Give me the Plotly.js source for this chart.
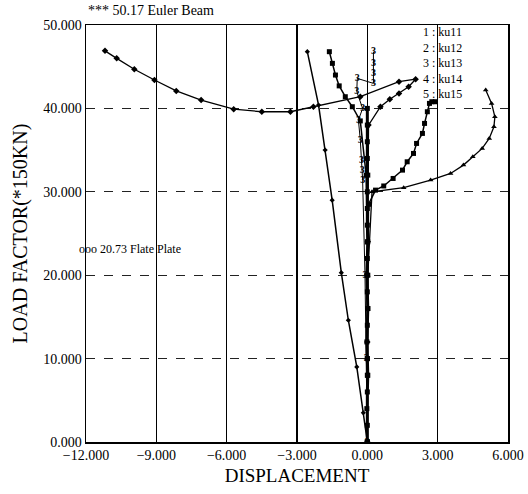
<!DOCTYPE html>
<html>
<head>
<meta charset="utf-8">
<script src="https://cdn.plot.ly/plotly-3.0.1.min.js"></script>
<style>html,body{margin:0;padding:0;background:#fff;}#chart{width:528px;height:494px;}</style>
</head>
<body>
<div id="chart"></div>
<script>
// ---- data ----
// ku11 : straight line from origin
const ku11X = [0, -0.17, -0.45, -0.81, -1.11, -1.5, -1.8, -2.08, -2.56];
const ku11Y = [0, 3.5, 9.0, 14.6, 20.3, 29.0, 35.0, 40.4, 46.8];

// ku12 : squares, up the column then left
const ku12X = [0, 0.0, 0.02, 0.0, -0.05, -0.3, -0.64, -0.94, -1.2, -1.36, -1.49, -1.62];
const ku12Y = [0, 8, 16, 24, 32, 38.5, 40.2, 41.4, 42.7, 44.0, 45.4, 46.8];

// ku13 : "3" labelled points
const ku13X = [0, -0.05, -0.1, -0.2, -0.22, -0.25, -0.3, -0.38, -0.2, -0.45, -0.43, 0.26, 0.26, 0.26, 0.26];
const ku13Y = [0, 10, 20, 31.4, 32.6, 33.8, 36.2, 38.6, 40.0, 42.0, 43.6, 43.0, 44.2, 45.4, 46.8];

// ku14 : Euler beam path (right loop then far left)
const ku14X = [0, 0.0, 0.02, 0.05, 0.56, 0.96, 1.35, 1.76, 2.06, 1.35, -0.3, -2.3, -3.28, -4.5, -5.7, -7.09, -8.15, -9.08, -9.94, -10.69, -11.19];
const ku14Y = [0, 12, 24, 38.0, 40.2, 41.1, 41.8, 42.6, 43.5, 43.2, 41.4, 40.2, 39.6, 39.6, 39.9, 41.0, 42.1, 43.4, 44.7, 46.0, 46.9];

// ku15a : squares branch to the right
const ku15aX = [0, 0.0, 0.02, 0.05, 0.35, 0.7, 1.1, 1.5, 1.7, 1.97, 2.1, 2.35, 2.44, 2.56, 2.65, 2.75, 2.9];
const ku15aY = [0, 10, 20, 28.5, 30.2, 30.7, 31.6, 32.6, 33.6, 34.6, 35.8, 37.0, 38.2, 39.6, 40.6, 40.8, 40.8];

// ku15b : triangles, wide loop to the right
const ku15bX = [0, 0.0, 0.02, 0.2, 1.55, 2.7, 3.55, 4.1, 4.5, 4.9, 5.2, 5.4, 5.44, 5.3, 5.05];
const ku15bY = [0, 10, 20, 30.0, 30.5, 31.4, 32.2, 33.2, 34.2, 35.2, 36.4, 37.8, 39.0, 40.6, 42.2];

// column of dense markers near x = 0
const colX = [0, 0.0, -0.02, 0.0, 0.02, 0.0, -0.02, 0.0, 0.02, 0.0, -0.02, 0.0, 0.02, 0.0, 0.0, 0.0, 0.02, 0.0, 0.0, 0.0, 0.0];
const colY = [0, 2, 4, 6, 8, 10, 12, 14, 16, 18, 20, 22, 24, 26, 28, 30, 32, 34, 36, 38, 40];

const legendLines = ["1 : ku11", "2 : ku12", "3 : ku13", "4 : ku14", "5 : ku15"];
const xTicks = [-12, -9, -6, -3, 0, 3, 6];
const yTicks = [0, 10, 20, 30, 40, 50];

const serif = "Liberation Serif";
const blk = "#000";

const traces = [
  {x: ku11X, y: ku11Y, mode: "lines+markers", line: {color: blk, width: 1.5},
   marker: {symbol: "diamond", size: 4, color: blk}, name: "ku11"},
  {x: ku12X, y: ku12Y, mode: "lines+markers", line: {color: blk, width: 1.5},
   marker: {symbol: "square", size: 5, color: blk}, name: "ku12"},
  {x: ku13X, y: ku13Y, mode: "lines+text", line: {color: blk, width: 1},
   text: ku13X.map(() => "<b>3</b>"), textposition: "middle center",
   textfont: {family: serif, size: 10, color: blk}, name: "ku13"},
  {x: ku14X, y: ku14Y, mode: "lines+markers", line: {color: blk, width: 1.3},
   marker: {symbol: "diamond", size: 5, color: blk}, name: "ku14"},
  {x: ku15aX, y: ku15aY, mode: "lines+markers", line: {color: blk, width: 1.5},
   marker: {symbol: "square", size: 5, color: blk}, name: "ku15a"},
  {x: ku15bX, y: ku15bY, mode: "lines+markers", line: {color: blk, width: 1.3},
   marker: {symbol: "triangle-up", size: 5, color: blk}, name: "ku15b"},
  {x: colX, y: colY, mode: "lines+markers", line: {color: blk, width: 3},
   marker: {symbol: "square", size: 5, color: blk}, name: "col"}
];

const annotations = [
  {xref: "paper", yref: "paper", x: 0.0, y: 1.035, xanchor: "left", yanchor: "middle",
   text: "*** 50.17 Euler Beam", showarrow: false, font: {family: serif, size: 14, color: blk}},
  {xref: "paper", yref: "y", x: -0.022, y: 23.1, xanchor: "left", yanchor: "middle",
   text: "ooo 20.73 Flate Plate", showarrow: false, font: {family: serif, size: 12, color: blk}},
  {xref: "paper", yref: "paper", x: 0.795, y: 1 + 2 / 417, xanchor: "left", yanchor: "top",
   align: "left", text: legendLines.join("<br>"), showarrow: false,
   font: {family: serif, size: 12, color: blk}}
];

const layout = {
  width: 528, height: 494,
  margin: {l: 86, r: 20, t: 25, b: 52},
  paper_bgcolor: "#fff", plot_bgcolor: "#fff",
  showlegend: false,
  font: {family: serif, color: blk},
  xaxis: {
    range: [-12, 6], tickvals: xTicks, tickformat: ".3f",
    showgrid: true, gridcolor: blk, gridwidth: 1.5,
    zeroline: false, showline: true, linecolor: blk, linewidth: 1.5, mirror: true,
    ticks: "", tickfont: {family: serif, size: 14, color: blk},
    title: {text: "DISPLACEMENT", font: {family: serif, size: 19, color: blk}, standoff: 6}
  },
  yaxis: {
    range: [0, 50], tickvals: yTicks, tickformat: ".3f",
    showgrid: true, gridcolor: "#222", gridwidth: 1, griddash: "dash",
    zeroline: false, showline: true, linecolor: blk, linewidth: 1.5, mirror: true,
    ticks: "", tickfont: {family: serif, size: 14, color: blk},
    title: {text: "LOAD FACTOR(*150KN)", font: {family: serif, size: 20, color: blk}, standoff: 10}
  },
  annotations: annotations
};

Plotly.newPlot("chart", traces, layout, {displayModeBar: false, staticPlot: true});
</script>
</body>
</html>
